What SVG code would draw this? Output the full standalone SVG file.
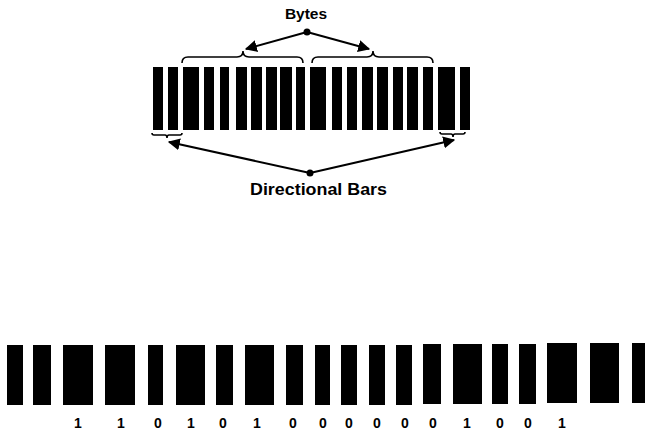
<svg xmlns="http://www.w3.org/2000/svg" width="645" height="433" viewBox="0 0 645 433">
<defs>
<style>
.bar{fill:#000}
.lbl{font-family:"Liberation Sans",Arial,sans-serif;font-weight:bold;fill:#000}
.dig{font-family:"Liberation Sans",Arial,sans-serif;font-weight:bold;font-size:14px;fill:#000;text-anchor:middle}
.br{fill:none;stroke:#000;stroke-width:1.6}
.ar{fill:none;stroke:#000;stroke-width:2}
</style>
<marker id="ah" viewBox="0 0 10 10" refX="9" refY="5" markerWidth="6" markerHeight="6" markerUnits="strokeWidth" orient="auto">
<path d="M0,0 L10,5 L0,10 z" fill="#000"/>
</marker>
</defs>
<rect width="645" height="433" fill="#fff"/>
<g id="top-barcode">
<rect class="bar" x="153" y="67" width="10" height="63"/>
<rect class="bar" x="168" y="67" width="10" height="63"/>
<rect class="bar" x="183" y="67" width="16" height="63"/>
<rect class="bar" x="204" y="67" width="10" height="63"/>
<rect class="bar" x="220" y="67" width="9" height="63"/>
<rect class="bar" x="236" y="67" width="11" height="63"/>
<rect class="bar" x="251" y="67" width="11" height="63"/>
<rect class="bar" x="266" y="67" width="11" height="63"/>
<rect class="bar" x="280" y="67" width="12" height="63"/>
<rect class="bar" x="296" y="67" width="9" height="63"/>
<rect class="bar" x="310" y="67" width="16" height="63"/>
<rect class="bar" x="332" y="67" width="10" height="63"/>
<rect class="bar" x="347" y="67" width="10" height="63"/>
<rect class="bar" x="362" y="67" width="11" height="63"/>
<rect class="bar" x="377" y="67" width="11" height="63"/>
<rect class="bar" x="393" y="67" width="10" height="63"/>
<rect class="bar" x="407" y="67" width="11" height="63"/>
<rect class="bar" x="423" y="67" width="10" height="63"/>
<rect class="bar" x="438" y="67" width="17" height="63"/>
<rect class="bar" x="460" y="67" width="10" height="63"/>
</g>
<g id="braces">
<path class="br" d="M182,63 Q182,57 188,57 L237,57 Q243,57 243,51 Q243,57 249,57 L297,57 Q303,57 303,63"/>
<path class="br" d="M312,63 Q312,57 318,57 L367,57 Q373,57 373,51 Q373,57 379,57 L427,57 Q433,57 433,63"/>
<path class="br" d="M152,133 Q152,135 154,135 L165,135 Q167,135 167,138 Q167,135 169,135 L180,135 Q182,135 182,133"/>
<path class="br" d="M440,132 Q440,134 442,134 L451,134 Q453,134 453,137 Q453,134 455,134 L463,134 Q465,134 465,132"/>
</g>
<g id="label-bytes">
<text class="lbl" x="306" y="19" font-size="15.5" text-anchor="middle">Bytes</text>
<circle cx="307" cy="32" r="3.5" fill="#000"/>
</g>
<g id="label-directional">
<text class="lbl" x="318.5" y="195" font-size="16.5" text-anchor="middle" textLength="137" lengthAdjust="spacingAndGlyphs">Directional Bars</text>
<circle cx="310" cy="173" r="3.5" fill="#000"/>
</g>
<g id="connectors">
<line class="ar" x1="307" y1="32" x2="246" y2="49" marker-end="url(#ah)"/>
<line class="ar" x1="307" y1="32" x2="369" y2="49" marker-end="url(#ah)"/>
<line class="ar" x1="310" y1="173" x2="169" y2="142" marker-end="url(#ah)"/>
<line class="ar" x1="310" y1="173" x2="454" y2="140" marker-end="url(#ah)"/>
</g>
<g id="bottom-barcode">
<rect class="bar" x="7" y="345" width="16" height="60"/>
<rect class="bar" x="33" y="345" width="18" height="60"/>
<rect class="bar" x="63" y="345" width="30" height="60"/>
<rect class="bar" x="105" y="345" width="30" height="60"/>
<rect class="bar" x="148" y="345" width="15" height="60"/>
<rect class="bar" x="176" y="345" width="29" height="60"/>
<rect class="bar" x="216" y="345" width="17" height="60"/>
<rect class="bar" x="245" y="345" width="29" height="60"/>
<rect class="bar" x="286" y="345" width="17" height="60"/>
<rect class="bar" x="315" y="345" width="15" height="60"/>
<rect class="bar" x="341" y="345" width="16" height="60"/>
<rect class="bar" x="369" y="345" width="16" height="60"/>
<rect class="bar" x="396" y="345" width="16" height="60"/>
<rect class="bar" x="423" y="344" width="18" height="60"/>
<rect class="bar" x="453" y="344" width="29" height="60"/>
<rect class="bar" x="492" y="344" width="16" height="60"/>
<rect class="bar" x="519" y="344" width="17" height="60"/>
<rect class="bar" x="547" y="343" width="30" height="60"/>
<rect class="bar" x="590" y="343" width="29" height="60"/>
<rect class="bar" x="632" y="343" width="14" height="60"/>
</g>
<g id="digits">
<text class="dig" x="78" y="428">1</text>
<text class="dig" x="121" y="428">1</text>
<text class="dig" x="158" y="428">0</text>
<text class="dig" x="191" y="428">1</text>
<text class="dig" x="223" y="428">0</text>
<text class="dig" x="257" y="428">1</text>
<text class="dig" x="293" y="428">0</text>
<text class="dig" x="323" y="428">0</text>
<text class="dig" x="349" y="428">0</text>
<text class="dig" x="377" y="428">0</text>
<text class="dig" x="405" y="428">0</text>
<text class="dig" x="433" y="428">0</text>
<text class="dig" x="467" y="428">1</text>
<text class="dig" x="500" y="428">0</text>
<text class="dig" x="528" y="428">0</text>
<text class="dig" x="562" y="428">1</text>
</g>
</svg>
